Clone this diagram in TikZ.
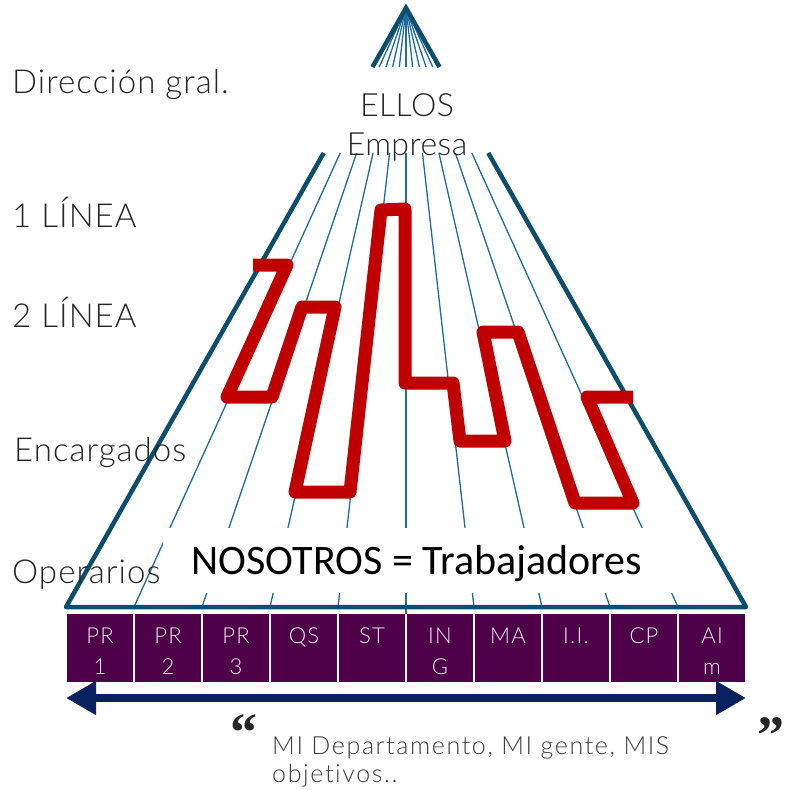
\documentclass[tikz,border=0pt]{standalone}
\usepackage{fontspec}
\setmainfont{Lato Light}[Ligatures=NoCommon]
\newfontfamily\calfont{Carlito}
\newfontfamily\quotefont{Liberation Serif}
\usetikzlibrary{calc,arrows.meta}
\definecolor{edgeblue}{HTML}{0D4D6E}
\definecolor{rayblue}{HTML}{1F6C9E}
\definecolor{redline}{HTML}{C00000}
\definecolor{deptpurple}{HTML}{4E0048}
\definecolor{deptwhite}{HTML}{F2E8F2}
\definecolor{navy}{HTML}{0A2160}
\definecolor{txt}{HTML}{262626}
\definecolor{quotegray}{HTML}{404040}

\tikzset{
  ray/.style={draw=rayblue, line width=1.3pt},
  edge/.style={draw=edgeblue, line width=4.5pt},
  lbl/.style={font=\fontsize{33}{38}\selectfont\addfontfeatures{LetterSpace=3.2}, text=txt, inner sep=0pt, anchor=base west},
  toplbl/.style={font=\fontsize{32}{36}\selectfont\addfontfeatures{LetterSpace=1.5}, text=txt, inner sep=0pt, anchor=base},
  dept/.style={fill=deptpurple, draw=none, minimum width=66pt, minimum height=68pt, inner sep=0pt},
  deptlbl/.style={font=\fontsize{22}{26}\selectfont\addfontfeatures{LetterSpace=6}, text=deptwhite, inner sep=0pt, anchor=base},
  quotetxt/.style={font=\fontsize{25}{28}\selectfont\addfontfeatures{LetterSpace=6.5}, text=quotegray, inner sep=0pt, anchor=base west},
  quotemark/.style={font=\quotefont\bfseries\fontsize{54}{54}\selectfont, text=txt, inner sep=0pt, anchor=base},
}

\begin{document}
\begin{tikzpicture}[x=1pt, y=-1pt]
\useasboundingbox (0,0) rectangle (789,790);

% vanishing point and the eleven points along the base
\coordinate (A) at (406,8);
\foreach \i in {0,...,10} { \coordinate (B\i) at ({66+68*\i},607); }

% small pyramid tip and the fan of department lines
\foreach \i in {1,...,9} {
  \draw[ray] (A) -- ($(A)!0.0985!(B\i)$);
  \draw[ray] ($(A)!0.242!(B\i)$) -- (B\i);
}
\draw[ray] (B5) -- ++(0,7);
\draw[edge, line join=miter] ($(A)!0.0985!(B0)$) -- (A) -- ($(A)!0.0985!(B10)$);

% white band behind the workers label
\fill[white] (163,528) rectangle (695,593);
\node[font=\calfont\fontsize{42}{46}\selectfont, text=black, inner sep=0pt, anchor=base] (nos) at (417,574) {NOSOTROS = Trabajadores};

% outer frame of the pyramid
\draw[edge, line join=round] ($(A)!0.242!(B0)$) -- (B0) -- (B10) -- ($(A)!0.242!(B10)$);

% the red zig-zag across departments
\draw[redline, line width=13pt, line join=round]
  (253,265) -- (287,265) -- (227,397) -- (272,397) -- (302,307) -- (335,307)
  -- (295,492) -- (350,492) -- (381,210) -- (405,209) -- (405,383) -- (453,383)
  -- (460,441) -- (505,441) -- (483,332) -- (518,332) -- (575,503) -- (633,503)
  -- (587,397) -- (633,397);

% top labels
\node[toplbl] (ellos) at (407,116) {ELLOS};
\node[toplbl] (empresa) at (407,155) {Empresa};

% hierarchy levels
\node[lbl] (dir) at (12,93) {Dirección gral.};
\node[lbl] (l1) at (12,227) {1 LÍNEA};
\node[lbl] (l2) at (12,327) {2 LÍNEA};
\node[lbl] (enc) at (14,461) {Encargados};
\node[lbl] (ope) at (12,583) {Operarios};

% department boxes with their two-line abbreviations
\foreach \i/\ta/\tb in {0/PR/1,1/PR/2,2/PR/3,3/QS/,4/ST/,5/IN/G,6/MA/,7/I.I./,8/CP/,9/AI/m} {
  \node[dept] (d\i) at ({100+68*\i},648) {};
  \node[deptlbl] (ta\i) at ({100+68*\i},643) {\ta};
  \node[deptlbl] (tb\i) at ({100+68*\i},674) {\tb};
}

% double arrow
\coordinate (arrL) at (66,698);
\coordinate (arrR) at (746,698);
\draw[navy, line width=8pt, {Triangle[length=30pt,width=32pt]}-{Triangle[length=30pt,width=32pt]}] (arrL) -- (arrR);

% quotation
\node[quotemark] (qo) at (244,750) {“};
\node[quotemark] (qc) at (771,753) {”};
\node[quotetxt] (quote1) at (272,754) {MI Departamento, MI gente, MIS};
\node[quotetxt] (quote2) at (272,782) {objetivos..};
\end{tikzpicture}
\end{document}
